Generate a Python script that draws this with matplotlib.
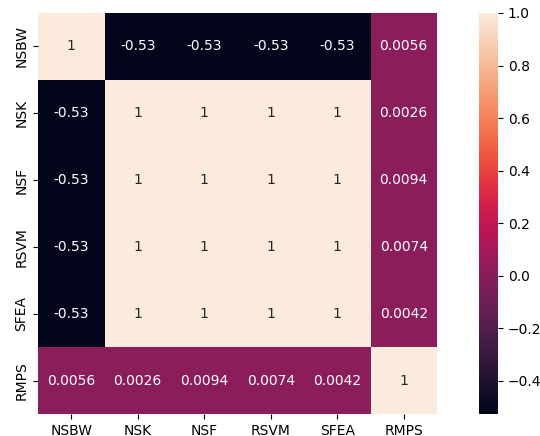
import numpy as np
import matplotlib
matplotlib.use("Agg")
import matplotlib.pyplot as plt
import seaborn as sns

labels = ["NSBW", "NSK", "NSF", "RSVM", "SFEA", "RMPS"]
neg = -0.527
rmps = [0.0056, 0.0026, 0.0094, 0.0074, 0.0042]
corr = np.array([
    [1, neg, neg, neg, neg, rmps[0]],
    [neg, 1, 1, 1, 1, rmps[1]],
    [neg, 1, 1, 1, 1, rmps[2]],
    [neg, 1, 1, 1, 1, rmps[3]],
    [neg, 1, 1, 1, 1, rmps[4]],
    [rmps[0], rmps[1], rmps[2], rmps[3], rmps[4], 1],
])

fig = plt.figure(figsize=(5.4, 4.36), dpi=100)
W, H = 540, 436
ax = fig.add_axes([38 / W, 1 - 414 / H, 399 / W, 401 / H])
cax = fig.add_axes([479 / W, 1 - 414 / H, 19 / W, 401 / H])
sns.heatmap(corr, annot=True, fmt=".2g", xticklabels=labels, yticklabels=labels,
            ax=ax, cbar_ax=cax, annot_kws={"size": 10})
ax.tick_params(labelsize=10)
cax.tick_params(labelsize=10)
plt.setp(ax.get_yticklabels(), rotation=90, va="center")
fig.savefig("out.png", dpi=100)
